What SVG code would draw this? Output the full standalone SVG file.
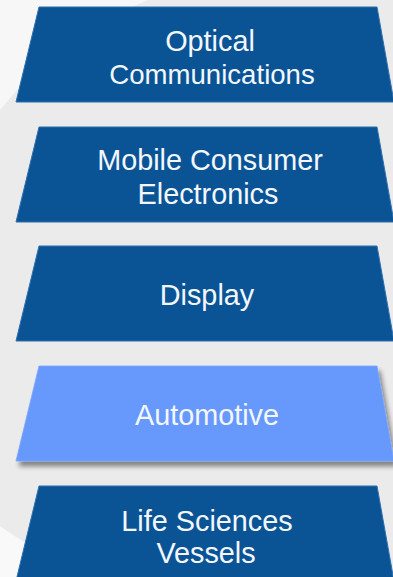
<svg xmlns="http://www.w3.org/2000/svg" width="393" height="577" viewBox="0 0 393 577">
<defs>
<style>
.dark{fill:#0a5496;stroke:#2f6fae;stroke-width:1}
.light{fill:#6699fb;stroke:#7aa6fb;stroke-width:0.8}
.lbl{font-family:"Liberation Sans",Arial,sans-serif;font-size:28.8px;fill:#f3f7fc;text-anchor:middle}
</style>
<filter id="sh" x="-10%" y="-10%" width="130%" height="140%">
<feGaussianBlur in="SourceAlpha" stdDeviation="2.5"/>
<feOffset dx="3" dy="5" result="b"/>
<feComponentTransfer><feFuncA type="linear" slope="0.45"/></feComponentTransfer>
<feMerge><feMergeNode/><feMergeNode in="SourceGraphic"/></feMerge>
</filter>
<path id="trap" d="M39,0 L377,0 L394,95 L16,95 Z"/>
</defs>
<rect width="393" height="577" fill="#ebebeb"/>
<path d="M0,0 L148,0 Q60,35 0,110 Z" fill="#f7f7f7"/>
<path d="M0,526 Q20,540 45,555 L60,577 L0,577 Z" fill="#f9f9f9"/>
<g id="connectors"/>
<g id="node-optical">
<use href="#trap" class="dark" x="0" y="7"/>
<text class="lbl" x="210" y="51">Optical</text>
<text class="lbl" x="212" y="84" style="font-size:27.6px">Communications</text>
</g>
<g id="node-mobile">
<use href="#trap" class="dark" x="0" y="127"/>
<text class="lbl" x="210" y="170">Mobile Consumer</text>
<text class="lbl" x="208" y="204">Electronics</text>
</g>
<g id="node-display">
<use href="#trap" class="dark" x="0" y="246"/>
<text class="lbl" x="207" y="305">Display</text>
</g>
<g id="node-automotive">
<use href="#trap" class="light" x="0" y="366" filter="url(#sh)"/>
<text class="lbl" x="207" y="425">Automotive</text>
</g>
<g id="node-life">
<use href="#trap" class="dark" x="0" y="486"/>
<text class="lbl" x="207" y="531">Life Sciences</text>
<text class="lbl" x="206" y="563">Vessels</text>
</g>
</svg>
